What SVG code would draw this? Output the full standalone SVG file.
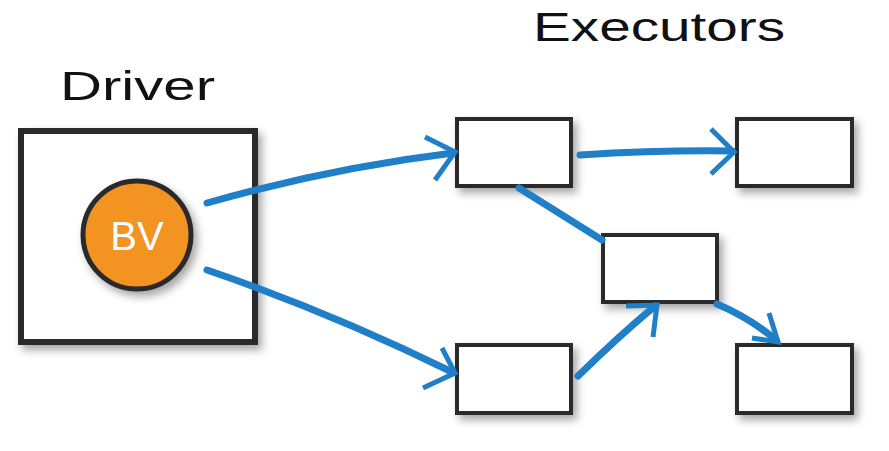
<svg xmlns="http://www.w3.org/2000/svg" width="889" height="451" viewBox="0 0 889 451">
  <style>
    .box { fill: #ffffff; stroke: #2b2b2b; stroke-width: 4; filter: url(#shadow); }
    .title { font-family: "Liberation Sans", "Noto Sans", sans-serif; font-size: 40px; fill: #111111; }
    .conn { fill: none; stroke: #1f7fc8; stroke-width: 7; stroke-linecap: round; stroke-linejoin: round; }
    .head { fill: none; stroke: #1f7fc8; stroke-width: 5; stroke-linecap: butt; stroke-linejoin: miter; }
  </style>
  <defs>
    <filter id="shadow" x="-20%" y="-20%" width="150%" height="160%">
      <feDropShadow dx="4" dy="5" stdDeviation="4" flood-color="#000000" flood-opacity="0.35"/>
    </filter>
  </defs>
  <rect width="889" height="451" fill="#ffffff"/>

  <text class="title" x="60" y="100" textLength="155" lengthAdjust="spacingAndGlyphs">Driver</text>
  <text class="title" x="533" y="41" textLength="252" lengthAdjust="spacingAndGlyphs">Executors</text>

  <g id="driver">
    <rect class="box" x="21" y="131" width="234" height="211" style="stroke-width:6"/>
  </g>
  <g id="bv">
    <circle cx="137" cy="235" r="54" fill="#f39323" stroke="#2b2b2b" stroke-width="5" filter="url(#shadow)"/>
    <text x="137" y="250" text-anchor="middle" font-family="Liberation Sans, Noto Sans, sans-serif" font-size="40" fill="#ffffff">BV</text>
  </g>

  <g id="exec1"><rect class="box" x="457" y="119" width="114" height="67"/></g>
  <g id="exec2"><rect class="box" x="737" y="119" width="115" height="67"/></g>
  <g id="exec3"><rect class="box" x="603" y="235" width="114" height="67"/></g>
  <g id="exec4"><rect class="box" x="457" y="345" width="114" height="68"/></g>
  <g id="exec5"><rect class="box" x="737" y="345" width="115" height="68"/></g>

  <g id="connectors">
    <path class="conn" d="M207,203 Q330,168 453,153"/>
    <path class="head" d="M425,137 L455,152 L435,180"/>

    <path class="conn" d="M207,270 Q330,312 452,372"/>
    <path class="head" d="M442,348 L455,373 L423,388"/>

    <path class="conn" d="M580,155 Q660,150 732,151"/>
    <path class="head" d="M711,129 L734,152 L711,174"/>

    <path class="conn" d="M519,188 L602,240"/>

    <path class="conn" d="M578,376 Q620,335 655,306"/>
    <path class="head" d="M626,306 L657,305 L653,337"/>

    <path class="conn" d="M717,304 Q750,318 776,340"/>
    <path class="head" d="M769,313 L778,342 L752,338"/>
  </g>
</svg>
